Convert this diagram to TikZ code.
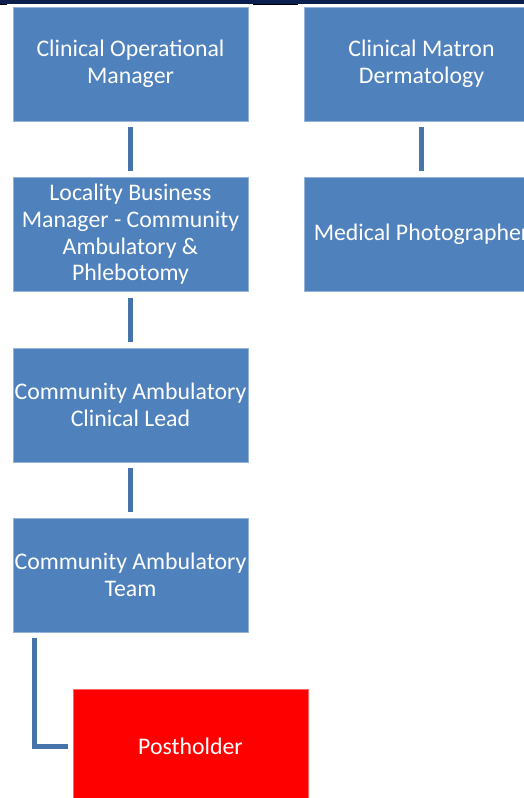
\documentclass[tikz,border=0pt]{standalone}
\usepackage{fontspec}
\setmainfont{Carlito}
\usetikzlibrary{positioning}
\definecolor{boxblue}{HTML}{4F81BD}
\definecolor{linkblue}{HTML}{4673AA}
\definecolor{topnavy}{HTML}{0B1F4F}
\definecolor{postred}{HTML}{FF0000}
\begin{document}
\begin{tikzpicture}[x=1pt,y=-1pt,
  orgbox/.style={rectangle, fill=boxblue, draw=boxblue!60!white, line width=0.6pt,
    minimum width=235pt, minimum height=114pt, inner sep=0pt,
    text=white, align=center, font=\fontsize{23.8}{26.6}\selectfont},
  link/.style={draw=linkblue, line width=5pt, shorten <=6pt, shorten >=6pt}]
\useasboundingbox (0,0) rectangle (524,798);
\clip (0,0) rectangle (524,798);
\fill[white] (0,0) rectangle (524,798);
% header band
\fill[topnavy] (0,0) rectangle (524,3.5);
\fill[black] (0,3.5) rectangle (7,5);
\fill[black] (253,3.5) rectangle (298,5);

% left column
\node[orgbox] (com) at (130.5,64) {Clinical Operational\\Manager};
\node[orgbox] (lbm) at (130.5,234.5) {Locality Business\\Manager - Community\\Ambulatory \&\\Phlebotomy};
\node[orgbox] (cacl) at (130.5,405) {Community Ambulatory\\Clinical Lead};
\node[orgbox] (cat) at (130.5,575) {Community Ambulatory\\Team};
\node[orgbox, fill=postred, draw=postred!60!white] (ph) at (190.5,746) {Postholder};

% right column
\node[orgbox] (cmd) at (421.5,64) {Clinical Matron\\Dermatology};
\node[orgbox] (mp) at (421.5,234.5) {Medical Photographer};

% reporting lines
\draw[link] (com) -- (lbm);
\draw[link] (lbm) -- (cacl);
\draw[link] (cacl) -- (cat);
\draw[link] (cmd) -- (mp);
\draw[draw=linkblue, line width=5pt]
  ([xshift=22pt,yshift=-6pt]cat.south west) |- ([xshift=-5pt]ph.west);
\end{tikzpicture}
\end{document}
